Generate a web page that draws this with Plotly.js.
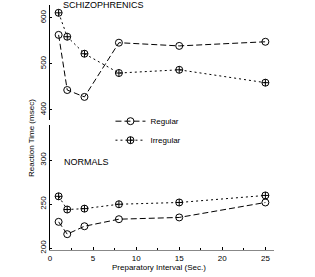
<!DOCTYPE html>
<html>
<head>
<meta charset="utf-8">
<script src="https://cdn.plot.ly/plotly-3.0.1.min.js"></script>
<style>html,body{margin:0;padding:0;background:#fff;}</style>
</head>
<body>
<div id="chart" style="width:315px;height:277px;"></div>
<script>
// Preparatory interval (sec.)
const intervals = [1, 2, 4, 8, 15, 25];
// Schizophrenics, reaction time (msec)
const schizRegular   = [563, 443, 428, 546, 539, 548];
const schizIrregular = [611, 559, 522, 480, 487, 459];
// Normals, reaction time (msec)
const normRegular    = [230, 216, 225, 233, 235, 252];
const normIrregular  = [259, 244, 245, 250, 252, 260];
const xTicks = [0, 5, 10, 15, 20, 25];
const topTicks = [400, 500, 600];
const botTicks = [200, 250, 300];

const font = {family: 'Liberation Sans, Arial, sans-serif', size: 9, color: '#000'};
const regStyle = {line: {color: '#000', width: 1, dash: '6px,3px'},
  marker: {symbol: 'circle-open', size: 7, color: '#000', line: {width: 1, color: '#000'}}};
const irrStyle = {line: {color: '#000', width: 1, dash: '2px,3px'},
  marker: {symbol: 'circle-cross-open', size: 7, color: '#000', line: {width: 1, color: '#000'}}};

const traces = [
  Object.assign({x: intervals, y: schizRegular, name: 'Regular', mode: 'lines+markers',
    xaxis: 'x2', yaxis: 'y2', legendrank: 1}, regStyle),
  Object.assign({x: intervals, y: schizIrregular, name: 'Irregular', mode: 'lines+markers',
    xaxis: 'x2', yaxis: 'y2', legendrank: 2}, irrStyle),
  Object.assign({x: intervals, y: normRegular, name: 'Regular', mode: 'lines+markers',
    xaxis: 'x', yaxis: 'y', showlegend: false}, regStyle),
  Object.assign({x: intervals, y: normIrregular, name: 'Irregular', mode: 'lines+markers',
    xaxis: 'x', yaxis: 'y', showlegend: false}, irrStyle)
];

const layout = {
  width: 315, height: 277,
  margin: {l: 50, r: 41, t: 5, b: 27},
  paper_bgcolor: '#fff', plot_bgcolor: '#fff',
  font: font,
  showlegend: true,
  legend: {x: 0.27, y: 0.585, xanchor: 'left', yanchor: 'top', bgcolor: 'rgba(0,0,0,0)',
    font: {family: font.family, size: 8, color: '#000'}, tracegroupgap: 0, itemwidth: 30},
  xaxis: {domain: [0, 1], range: [0, 26], anchor: 'y', tickvals: xTicks, ticks: 'inside',
    ticklen: 3, tickcolor: '#000', showline: true, linecolor: '#888', linewidth: 1,
    showgrid: false, zeroline: false, tickfont: {size: 8, color: '#000'},
    minor: {dtick: 2.5, ticks: 'inside', ticklen: 2, tickcolor: '#000'}},
  yaxis: {domain: [0, 0.51], range: [198, 340], tickvals: botTicks, tickangle: -90,
    ticks: 'inside', ticklen: 2, tickcolor: '#000', showline: true, linecolor: '#000', linewidth: 1,
    showgrid: false, zeroline: false, tickfont: {size: 8, color: '#000'}},
  xaxis2: {domain: [0, 1], range: [0, 26], anchor: 'y2', visible: false},
  yaxis2: {domain: [0.531, 1], range: [378, 628], tickvals: topTicks, tickangle: -90,
    ticks: 'inside', ticklen: 2, tickcolor: '#000', showline: true, linecolor: '#000', linewidth: 1,
    showgrid: false, zeroline: false, tickfont: {size: 8, color: '#000'}},
  annotations: [
    {text: 'SCHIZOPHRENICS', xref: 'paper', yref: 'paper', x: 0.237, y: 1.0,
      xanchor: 'center', yanchor: 'middle', showarrow: false, font: {size: 9, color: '#000'}},
    {text: 'NORMALS', xref: 'paper', yref: 'paper', x: 0.165, y: 0.359,
      xanchor: 'center', yanchor: 'middle', showarrow: false, font: {size: 9, color: '#000'}},
    {text: 'Preparatory Interval (Sec.)', xref: 'paper', yref: 'paper', x: 0.487, y: -0.073,
      xanchor: 'center', yanchor: 'middle', showarrow: false, font: {size: 8, color: '#000'}},
    {text: 'Reaction Time (msec)', xref: 'paper', yref: 'paper', x: -0.085, y: 0.457,
      xanchor: 'center', yanchor: 'middle', textangle: -90, showarrow: false, font: {size: 8, color: '#000'}}
  ]
};

Plotly.newPlot('chart', traces, layout, {displayModeBar: false, staticPlot: true});
</script>
</body>
</html>
